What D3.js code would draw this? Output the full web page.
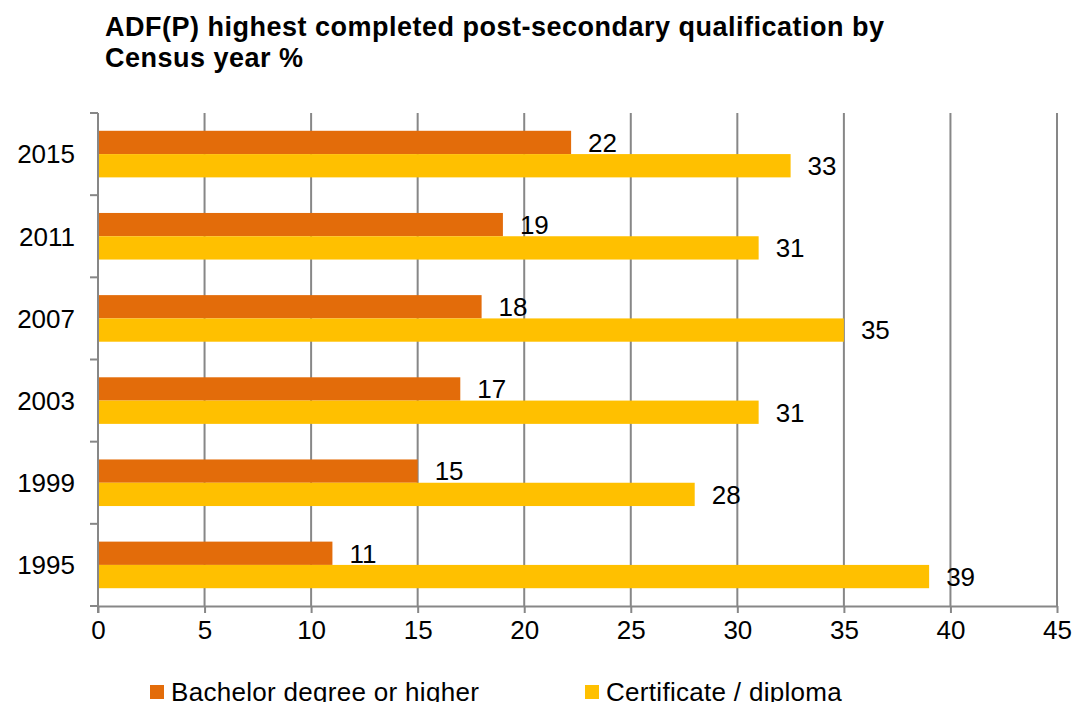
<!DOCTYPE html>
<html>
<head>
<meta charset="utf-8">
<script src="https://cdn.jsdelivr.net/npm/d3@7"></script>
<style>
  html, body { margin: 0; padding: 0; background: #fff; }
  svg { display: block; font-family: "Liberation Sans", Arial, sans-serif; }
</style>
</head>
<body>
<svg id="chart" width="1072" height="702"></svg>
<script>
const titleLines = ["ADF(P) highest completed post-secondary qualification by", "Census year %"];
const years = ["2015", "2011", "2007", "2003", "1999", "1995"];
const seriesNames = ["Bachelor degree or higher", "Certificate / diploma"];
const bachelor = [22.2, 19, 18, 17, 15, 11];
const certificate = [32.5, 31, 35, 31, 28, 39];
const xTicks = [0, 5, 10, 15, 20, 25, 30, 35, 40, 45];
const colors = ["#E36C0A", "#FFC000"];

(function () {
const svg = d3.select("#chart");
const pLeft = 98, pRight = 1057, pTop = 113, pBottom = 606;
const gridColor = "#878787";

const x = d3.scaleLinear().domain([0, 45]).range([pLeft, pRight]);
const y = d3.scaleBand().domain(years).range([pTop, pBottom]).paddingInner(0.433).paddingOuter(0.2165);
const ys = d3.scaleBand().domain(seriesNames).range([0, y.bandwidth()]);

// title
const title = svg.append("text").attr("x", 105).attr("y", 36)
  .attr("font-size", 27).attr("font-weight", "bold").attr("letter-spacing", 0.5).attr("fill", "#000");
titleLines.forEach((t, i) => title.append("tspan").attr("x", 105).attr("dy", i === 0 ? 0 : 31).text(t));

// gridlines
svg.append("g").selectAll("line").data(xTicks.slice(1)).join("line")
  .attr("x1", d => x(d)).attr("x2", d => x(d))
  .attr("y1", pTop).attr("y2", pBottom)
  .attr("stroke", gridColor).attr("stroke-width", 2);

// bars
const data = years.map((yr, i) => ({ year: yr, values: [bachelor[i], certificate[i]] }));
const groups = svg.append("g").selectAll("g").data(data).join("g")
  .attr("transform", d => `translate(0,${y(d.year)})`);
groups.selectAll("rect").data(d => d.values.map((v, j) => ({ v, s: seriesNames[j], j }))).join("rect")
  .attr("x", x(0)).attr("y", d => ys(d.s))
  .attr("width", d => x(d.v) - x(0)).attr("height", ys.bandwidth())
  .attr("fill", d => colors[d.j]);
groups.selectAll("text").data(d => d.values.map((v, j) => ({ v, s: seriesNames[j], j }))).join("text")
  .attr("x", d => x(d.v) + 17).attr("y", d => ys(d.s) + ys.bandwidth() / 2)
  .attr("dy", "0.36em").attr("font-size", 26).attr("fill", "#000")
  .text(d => d3.format(".0f")(d.v));

// x axis
const xAxis = svg.append("g").attr("transform", `translate(0,${pBottom})`)
  .call(d3.axisBottom(x).tickValues(xTicks).tickSize(7).tickSizeOuter(0).tickPadding(8));
xAxis.select(".domain").attr("stroke", gridColor).attr("stroke-width", 2);
xAxis.selectAll(".tick line").attr("stroke", gridColor).attr("stroke-width", 2);
xAxis.selectAll(".tick text").attr("font-size", 26).attr("fill", "#000")
  .attr("font-family", "'Liberation Sans', Arial, sans-serif");

// y axis: ticks at band boundaries
const yAxisG = svg.append("g");
yAxisG.append("line").attr("x1", pLeft).attr("x2", pLeft).attr("y1", pTop).attr("y2", pBottom + 7)
  .attr("stroke", gridColor).attr("stroke-width", 2);
const boundaries = years.map(yr => y(yr) - y.step() * y.paddingInner() / 2).concat([pBottom]);
yAxisG.selectAll("line.tk").data(boundaries).join("line").attr("class", "tk")
  .attr("x1", pLeft - 8).attr("x2", pLeft).attr("y1", d => d).attr("y2", d => d)
  .attr("stroke", gridColor).attr("stroke-width", 2);
yAxisG.selectAll("text").data(years).join("text")
  .attr("x", 75).attr("y", d => y(d) + y.bandwidth() / 2).attr("dy", "0.36em")
  .attr("text-anchor", "end").attr("font-size", 26).attr("fill", "#000").text(d => d);

// legend
const legendX = [150, 585];
const leg = svg.append("g").selectAll("g").data(seriesNames).join("g")
  .attr("transform", (d, i) => `translate(${legendX[i]},0)`);
leg.append("rect").attr("x", 0).attr("y", 685).attr("width", 14).attr("height", 14)
  .attr("fill", (d, i) => colors[i]);
leg.append("text").attr("x", 21).attr("y", 701).attr("font-size", 26).attr("letter-spacing", 0.3)
  .attr("fill", "#000").text(d => d);
})();
</script>
</body>
</html>
